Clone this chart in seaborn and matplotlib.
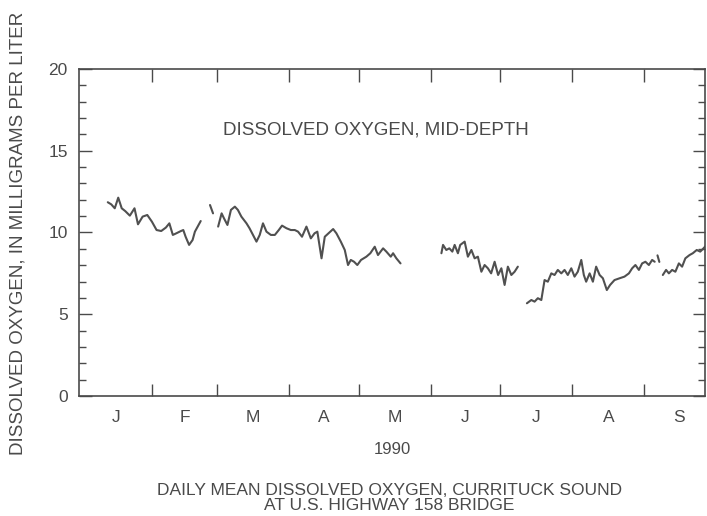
import numpy as np
import pandas as pd
import matplotlib
matplotlib.use("Agg")
import matplotlib.pyplot as plt
import seaborn as sns

# day of year (Jan 1 = 0) and daily mean dissolved oxygen (mg/L)
seg1_days = [12, 13.5, 15, 16.5, 18, 19.5, 21.5, 23.5, 25, 27, 29, 31, 33, 35, 37, 38.5,
             40, 41.5, 43.5, 44.5, 45.5, 47, 48.5, 49.5, 52]
seg1_do = [11.85, 11.72, 11.48, 12.13, 11.48, 11.31, 11.03, 11.48, 10.5, 10.97, 11.07, 10.66,
           10.15, 10.09, 10.3, 10.56, 9.85, 9.95, 10.09, 10.15, 9.74, 9.24, 9.54, 10.05, 10.7]

seg2_days = [56, 57.3]
seg2_do = [11.68, 11.17]

seg3_days = [59.5, 61, 62, 63.5, 65, 66.7, 68, 69.5, 71.7, 73, 74.5, 76, 77.4, 78.8, 80.3,
             82.2, 83.9, 85.6, 87, 88.9, 90.8, 92.5, 93.9, 95.6, 97.5, 99.4, 101, 102.2, 104,
             105.4, 107, 109, 110.4, 112.3, 114, 115.4, 116.6, 118, 119.4, 121, 123.3, 125,
             126.9, 128.3, 130.5, 131.9, 133.8, 134.8, 136.2, 138]
seg3_do = [10.36, 11.17, 10.87, 10.46, 11.38, 11.58, 11.38, 10.97, 10.56, 10.26, 9.85, 9.44,
           9.85, 10.56, 10.05, 9.85, 9.85, 10.15, 10.42, 10.26, 10.15, 10.15, 10.05, 9.74,
           10.36, 9.64, 9.95, 10.05, 8.42, 9.74, 9.95, 10.21, 9.95, 9.44, 8.93, 8.01, 8.32,
           8.21, 8.01, 8.32, 8.52, 8.73, 9.13, 8.62, 9.03, 8.83, 8.52, 8.73, 8.42, 8.11]

seg4_days = [155.6, 156.3, 157.7, 159, 160.3, 161.3, 162.7, 163.7, 165.6, 167, 168.5, 169.9,
             171.3, 172.8, 174.2, 175.6, 177, 178.5, 180, 181.4, 182.8, 184.2, 185.7, 187.1,
             188.5]
seg4_do = [8.73, 9.24, 8.93, 9.03, 8.83, 9.24, 8.73, 9.24, 9.44, 8.52, 8.93, 8.42, 8.52, 7.6,
           8.01, 7.81, 7.5, 8.21, 7.4, 7.81, 6.79, 7.91, 7.4, 7.6, 7.91]

seg5_days = [192.4, 194.3, 195.7, 197.1, 198.6, 200, 201.4, 202.9, 204.3, 205.7, 207.2, 208.6,
             210, 211.5, 212.9, 214.3, 215.8, 216.9, 217.9, 219.4, 220.8, 222.2, 223.7, 225.1,
             226.8, 228.2, 230.1, 232.3, 234.4, 236.3, 237.7, 239.1, 240.6, 242, 243.4, 244.9,
             246.3, 247.4]
seg5_do = [5.67, 5.87, 5.77, 5.98, 5.87, 7.09, 6.99, 7.5, 7.4, 7.71, 7.5, 7.71, 7.4, 7.81, 7.3,
           7.6, 8.32, 7.4, 6.99, 7.5, 6.99, 7.91, 7.4, 7.2, 6.48, 6.79, 7.09, 7.2, 7.3, 7.5,
           7.81, 8.01, 7.71, 8.11, 8.21, 8.01, 8.32, 8.21]

seg6_days = [248.6, 249.4]
seg6_do = [8.6, 8.2]

seg7_days = [250.9, 252.3, 253.5, 254.9, 256.3, 257.8, 259.2, 260.6, 262.4, 263.8, 265.5,
             267, 268.4, 269.5]
seg7_do = [7.4, 7.71, 7.5, 7.71, 7.6, 8.11, 7.91, 8.42, 8.62, 8.73, 8.93, 8.83, 9.03, 9.2]

month_starts = [31, 59, 90, 120, 151, 181, 212, 243]
month_mids = [15.5, 45, 74.5, 105, 135.5, 166, 196.5, 227.5, 258]
month_labels = ["J", "F", "M", "A", "M", "J", "J", "A", "S"]

segments = [(seg1_days, seg1_do), (seg2_days, seg2_do), (seg3_days, seg3_do),
            (seg4_days, seg4_do), (seg5_days, seg5_do), (seg6_days, seg6_do),
            (seg7_days, seg7_do)]
frames = []
for i, (d, v) in enumerate(segments):
    frames.append(pd.DataFrame({"day": d, "do": v, "segment": i}))
df = pd.concat(frames, ignore_index=True)

sns.set_theme(style="ticks")
plt.rcParams["font.family"] = ["Liberation Sans", "DejaVu Sans"]

ink = "#4a4a4a"
fig = plt.figure(figsize=(7.07, 5.16), dpi=100)
ax = fig.add_axes([0.1117, 0.2326, 0.8853, 0.6337])

sns.lineplot(data=df, x="day", y="do", units="segment", estimator=None,
             color="#505050", linewidth=1.5, ax=ax)

ax.set_xlim(-0.4, 269)
ax.set_ylim(0, 20)

for s in ax.spines.values():
    s.set_color(ink)
    s.set_linewidth(1.2)

# y ticks on both sides, pointing in
ax.set_yticks([0, 5, 10, 15, 20])
ax.set_yticks(np.arange(0, 21, 1), minor=True)
ax.tick_params(axis="y", which="both", direction="in", left=True, right=True,
               colors=ink, labelsize=12.5, labelcolor=ink, width=1.0)
ax.tick_params(axis="y", which="major", length=9, pad=8)
ax.tick_params(axis="y", which="minor", length=5)

# month boundaries as ticks, month letters at mid-month
ax.set_xticks(month_starts)
ax.set_xticklabels([])
ax.set_xticks(month_mids, minor=True)
ax.set_xticklabels(month_labels, minor=True)
ax.tick_params(axis="x", which="major", direction="in", top=True, bottom=True,
               length=9, colors=ink, width=1.0)
ax.tick_params(axis="x", which="minor", length=0, pad=10, labelsize=12.5, labelcolor=ink)

ax.set_xlabel("")
ax.set_ylabel("")

ax.text(0.474, 0.813, "DISSOLVED OXYGEN, MID-DEPTH", transform=ax.transAxes,
        ha="center", va="center", fontsize=13.5, color=ink)

fig.text(0.026, 0.548, "DISSOLVED OXYGEN, IN MILLIGRAMS PER LITER", rotation=90,
         ha="center", va="center", fontsize=13.5, color=ink)
fig.text(0.555, 0.128, "1990", ha="center", va="center", fontsize=12, color=ink)
fig.text(0.551, 0.05, "DAILY MEAN DISSOLVED OXYGEN, CURRITUCK SOUND",
         ha="center", va="center", fontsize=12.5, color=ink)
fig.text(0.551, 0.02, "AT U.S. HIGHWAY 158 BRIDGE",
         ha="center", va="center", fontsize=12.5, color=ink)

fig.savefig("out.png", dpi=100, facecolor="white")
